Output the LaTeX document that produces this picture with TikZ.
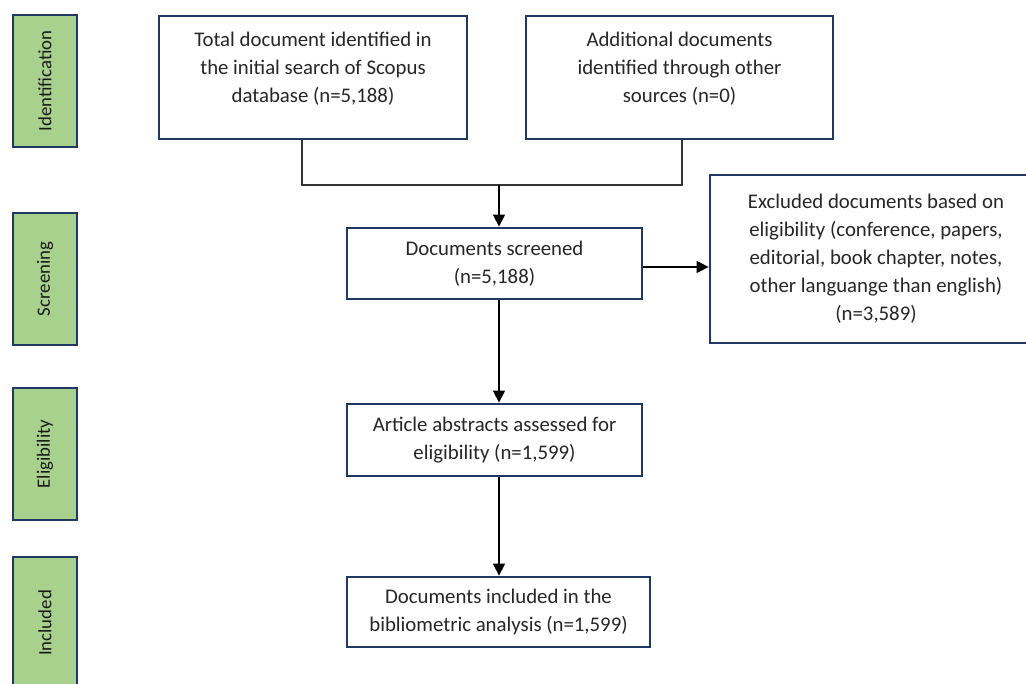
\documentclass[tikz,border=0pt]{standalone}
\usepackage{fontspec}
\setmainfont{Carlito}
\usetikzlibrary{arrows.meta}
\definecolor{navy}{HTML}{1F3864}
\definecolor{leaf}{HTML}{A9D18E}
\tikzset{
  box/.style={draw=navy, line width=2.8pt, fill=white, align=center, inner sep=0pt, text=black!85,
    font=\fontsize{20.8}{28}\selectfont},
  stage/.style={draw=navy, line width=2.8pt, fill=leaf, rotate=90, minimum width=132pt, minimum height=64pt,
    inner sep=0pt, text=black!90, font=\fontsize{18.8}{22}\selectfont},
  arr/.style={line width=1.5pt, -{Triangle[length=12pt,width=12pt]}},
  link/.style={line width=1.5pt, black!80}
}
\begin{document}
\begin{tikzpicture}[x=1pt,y=-1pt]
\useasboundingbox (0,0) rectangle (1026,684);
% stages on the left
\foreach \name/\y [count=\k] in {Identification/81, Screening/279, Eligibility/454, Included/623}
{
	\node[stage] (s\k) at (45,\y) {\name};
}

\node[box, minimum width=308pt, minimum height=123pt] (b1) at (313,77.5)
  {Total document identified in\\the initial search of Scopus\\database (n=5,188)\\[-8pt]\mbox{}};
\node[box, minimum width=307pt, minimum height=123pt] (b2) at (679.5,77.5)
  {Additional documents\\identified through other\\sources (n=0)\\[-8pt]\mbox{}};
\node[box, minimum width=295pt, minimum height=71pt] (b3) at (494.5,263.5)
  {Documents screened\\(n=5,188)};
\node[box, minimum width=332pt, minimum height=168pt] (b4) at (876,259)
  {Excluded documents based on\\eligibility (conference, papers,\\editorial, book chapter, notes,\\other languange than english)\\(n=3,589)};
\node[box, minimum width=295pt, minimum height=72pt] (b5) at (494.5,440)
  {Article abstracts assessed for\\eligibility (n=1,599)};
\node[box, minimum width=303pt, minimum height=70pt] (b6) at (498.5,612)
  {Documents included in the\\bibliometric analysis (n=1,599)};

\coordinate (join) at (499,185);
\coordinate (out) at ([yshift=-3.5pt]b3.east);
\draw[link] ([xshift=-11pt]b1.south) |- (join) -| ([xshift=2.5pt]b2.south);
\draw[arr] (join) -- (join |- b3.north);
\draw[arr] (out) -- (b4.west |- out);
\draw[arr] (join |- b3.south) -- (join |- b5.north);
\draw[arr] (join |- b5.south) -- (join |- b6.north);

\end{tikzpicture}
\end{document}
